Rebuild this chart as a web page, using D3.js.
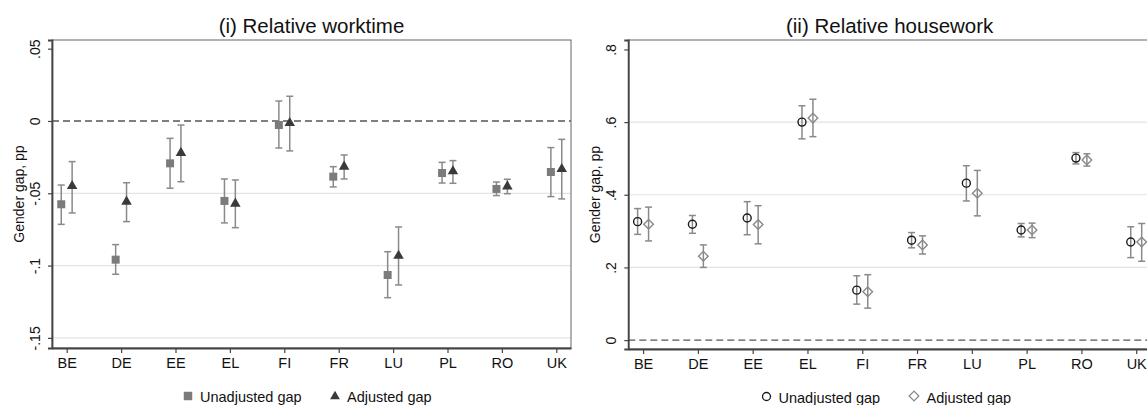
<!DOCTYPE html>
<html>
<head>
<meta charset="utf-8">
<script src="https://cdn.jsdelivr.net/npm/d3@7"></script>
<style>
  html, body { margin: 0; padding: 0; background: #fff; }
  svg { display: block; font-family: "Liberation Sans", Arial, Helvetica, sans-serif; }
</style>
</head>
<body>
<svg id="chart" width="1147" height="405"></svg>
<script>
// ---------- data ----------
const countries = ["BE","DE","EE","EL","FI","FR","LU","PL","RO","UK"];

// (i) Relative worktime
const workUnadj   = [-0.0576, -0.0959, -0.0293, -0.0553, -0.0028, -0.0385, -0.1065, -0.0360, -0.0470, -0.0353];
const workUnadjLo = [-0.0715, -0.1060, -0.0465, -0.0705, -0.0187, -0.0456, -0.1222, -0.0429, -0.0516, -0.0523];
const workUnadjHi = [-0.0443, -0.0855, -0.0120, -0.0401,  0.0138, -0.0316, -0.0904, -0.0286, -0.0422, -0.0184];
const workAdj     = [-0.0450, -0.0558, -0.0221, -0.0572, -0.0014, -0.0316, -0.0932, -0.0348, -0.0452, -0.0332];
const workAdjLo   = [-0.0636, -0.0696, -0.0420, -0.0738, -0.0207, -0.0401, -0.1134, -0.0431, -0.0503, -0.0539];
const workAdjHi   = [-0.0281, -0.0427, -0.0028, -0.0408,  0.0171, -0.0235, -0.0733, -0.0274, -0.0403, -0.0127];

// (ii) Relative housework
const houseUnadj   = [0.326, 0.319, 0.336, 0.600, 0.1375, 0.275, 0.432, 0.303, 0.501, 0.270];
const houseUnadjLo = [0.291, 0.294, 0.290, 0.554, 0.099,  0.254, 0.383, 0.284, 0.485, 0.227];
const houseUnadjHi = [0.362, 0.343, 0.381, 0.645, 0.177,  0.296, 0.480, 0.321, 0.516, 0.312];
const houseAdj     = [0.319, 0.231, 0.318, 0.611, 0.133,  0.262, 0.404, 0.303, 0.496, 0.270];
const houseAdjLo   = [0.273, 0.200, 0.265, 0.560, 0.088,  0.237, 0.342, 0.282, 0.479, 0.217];
const houseAdjHi   = [0.366, 0.262, 0.370, 0.663, 0.180,  0.287, 0.467, 0.322, 0.513, 0.321];

const workTicks  = [0.05, 0, -0.05, -0.1, -0.15];
const workTickLabels = [".05", "0", "-.05", "-.1", "-.15"];
const houseTicks = [0.8, 0.6, 0.4, 0.2, 0];
const houseTickLabels = [".8", ".6", ".4", ".2", "0"];

const titles = ["(i) Relative worktime", "(ii) Relative housework"];
const yTitle = "Gender gap, pp";
const legendLabels = ["Unadjusted gap", "Adjusted gap"];

// ---------- drawing ----------
const svg = d3.select("#chart");
svg.append("rect").attr("width", 1147).attr("height", 405).attr("fill", "#fff");

const errColor = "#8a8a8a";

function panel(opts) {
  const { left, right, top, bottom, yDomain, ticks, tickLabels, title, series, legend } = opts;
  const g = svg.append("g");
  const x = d3.scaleLinear().domain([0.73, 10.27]).range([left, right]);
  const y = d3.scaleLinear().domain(yDomain).range([bottom, top]);

  // gridlines (skip top tick and zero)
  g.selectAll("line.grid").data(ticks.filter((t, i) => i !== 0 && t !== 0)).enter()
    .append("line").attr("class", "grid")
    .attr("x1", left).attr("x2", right)
    .attr("y1", d => y(d)).attr("y2", d => y(d))
    .attr("stroke", "#e3e3e3").attr("stroke-width", 1.2);

  // zero dashed line
  g.append("line")
    .attr("x1", left).attr("x2", right)
    .attr("y1", y(0)).attr("y2", y(0))
    .attr("stroke", "#555").attr("stroke-width", 1.3)
    .attr("stroke-dasharray", "7,4");

  // frame
  g.append("rect").attr("x", left).attr("y", top)
    .attr("width", right - left).attr("height", bottom - top)
    .attr("fill", "none").attr("stroke", "#666").attr("stroke-width", 1);

  // y axis
  const ya = g.append("g").attr("transform", `translate(${left},0)`)
    .call(d3.axisLeft(y).tickValues(ticks).tickSize(4)
      .tickFormat((d, i) => tickLabels[i]));
  ya.select(".domain").attr("stroke", "#444").attr("stroke-width", 1.8);
  ya.selectAll(".tick line").attr("stroke", "#444").attr("stroke-width", 1.2);
  ya.selectAll(".tick text")
    .attr("transform", "rotate(-90)")
    .attr("x", 0).attr("y", -12).attr("dy", 0)
    .style("text-anchor", "middle")
    .attr("fill", "#111")
    .style("font-size", "14px");

  // x axis
  const xa = g.append("g").attr("transform", `translate(0,${bottom})`)
    .call(d3.axisBottom(x).tickValues(d3.range(1, countries.length + 1)).tickSize(5)
      .tickFormat(d => countries[d - 1]).tickSizeOuter(0));
  xa.select(".domain").attr("stroke", "#444").attr("stroke-width", 1.8);
  xa.selectAll(".tick line").attr("stroke", "#444").attr("stroke-width", 1.2);
  xa.selectAll(".tick text").attr("y", 20).attr("dy", 0)
    .attr("fill", "#111").style("font-size", "14.5px");

  // y title
  g.append("text")
    .attr("transform", `translate(${left - 28},${(top + bottom) / 2}) rotate(-90)`)
    .attr("text-anchor", "middle").style("font-size", "14px").attr("fill", "#111")
    .text(yTitle);

  // title
  g.append("text").attr("x", (left + right) / 2).attr("y", 33)
    .attr("text-anchor", "middle").style("font-size", "20.5px").attr("fill", "#111")
    .text(title);

  // series
  series.forEach(s => {
    const data = countries.map((c, i) => ({ i: i + 1, v: s.v[i], lo: s.lo[i], hi: s.hi[i] }));
    const sg = g.append("g");
    const cx = d => x(d.i + s.off);
    sg.selectAll("line.eb").data(data).enter().append("line")
      .attr("x1", cx).attr("x2", cx).attr("y1", d => y(d.lo)).attr("y2", d => y(d.hi))
      .attr("stroke", errColor).attr("stroke-width", 1.5);
    ["lo", "hi"].forEach(k => {
      sg.selectAll("line.cap" + k).data(data).enter().append("line")
        .attr("x1", d => cx(d) - 3.5).attr("x2", d => cx(d) + 3.5)
        .attr("y1", d => y(d[k])).attr("y2", d => y(d[k]))
        .attr("stroke", errColor).attr("stroke-width", 1.5);
    });
    sg.selectAll("path.m").data(data).enter().append("path")
      .attr("d", s.symbol)
      .attr("transform", d => `translate(${cx(d)},${y(d.v)}) rotate(${s.rot || 0})`)
      .attr("fill", s.fill).attr("stroke", s.stroke).attr("stroke-width", s.sw);
  });

  // legend
  legend.forEach(L => {
    g.append("path").attr("d", L.symbol)
      .attr("transform", `translate(${L.mx},${L.my}) rotate(${L.rot || 0})`)
      .attr("fill", L.fill).attr("stroke", L.stroke).attr("stroke-width", L.sw);
    g.append("text").attr("x", L.tx).attr("y", L.ty)
      .style("font-size", "14.5px").attr("fill", "#111").text(L.label);
  });
}

const sq = d3.symbol().type(d3.symbolSquare).size(64)();
const tri = d3.symbol().type(d3.symbolTriangle).size(48)();
const circ = d3.symbol().type(d3.symbolCircle).size(50)();
const dia = d3.symbol().type(d3.symbolSquare).size(46)();
const sqL = d3.symbol().type(d3.symbolSquare).size(72)();
const triL = d3.symbol().type(d3.symbolTriangle).size(42)();
const circL = d3.symbol().type(d3.symbolCircle).size(50)();
const diaL = d3.symbol().type(d3.symbolSquare).size(46)();

panel({
  left: 52, right: 571, top: 40, bottom: 348,
  yDomain: [-0.157, 0.056],
  ticks: workTicks, tickLabels: workTickLabels, title: titles[0],
  series: [
    { v: workUnadj, lo: workUnadjLo, hi: workUnadjHi, off: -0.1, symbol: sq, fill: "#7b7b7b", stroke: "none", sw: 0 },
    { v: workAdj, lo: workAdjLo, hi: workAdjHi, off: 0.1, symbol: tri, fill: "#3a3a3a", stroke: "none", sw: 0 }
  ],
  legend: [
    { symbol: sqL, mx: 188, my: 396, fill: "#7b7b7b", stroke: "none", sw: 0, tx: 200, ty: 401.5, label: legendLabels[0] },
    { symbol: triL, mx: 335, my: 396.5, fill: "#3a3a3a", stroke: "none", sw: 0, tx: 347, ty: 401.5, label: legendLabels[1] }
  ]
});

panel({
  left: 628.3, right: 1151, top: 40, bottom: 349,
  yDomain: [-0.0245, 0.826],
  ticks: houseTicks, tickLabels: houseTickLabels, title: titles[1],
  series: [
    { v: houseUnadj, lo: houseUnadjLo, hi: houseUnadjHi, off: -0.1, symbol: circ, fill: "none", stroke: "#1a1a1a", sw: 1.4 },
    { v: houseAdj, lo: houseAdjLo, hi: houseAdjHi, off: 0.1, symbol: dia, fill: "none", stroke: "#8a8a8a", sw: 1.4, rot: 45 }
  ],
  legend: [
    { symbol: circL, mx: 766.5, my: 396.5, fill: "none", stroke: "#1a1a1a", sw: 1.3, tx: 778.5, ty: 403, label: legendLabels[0] },
    { symbol: diaL, mx: 914, my: 396, fill: "none", stroke: "#8a8a8a", sw: 1.3, rot: 45, tx: 926.5, ty: 403, label: legendLabels[1] }
  ]
});
</script>
</body>
</html>
